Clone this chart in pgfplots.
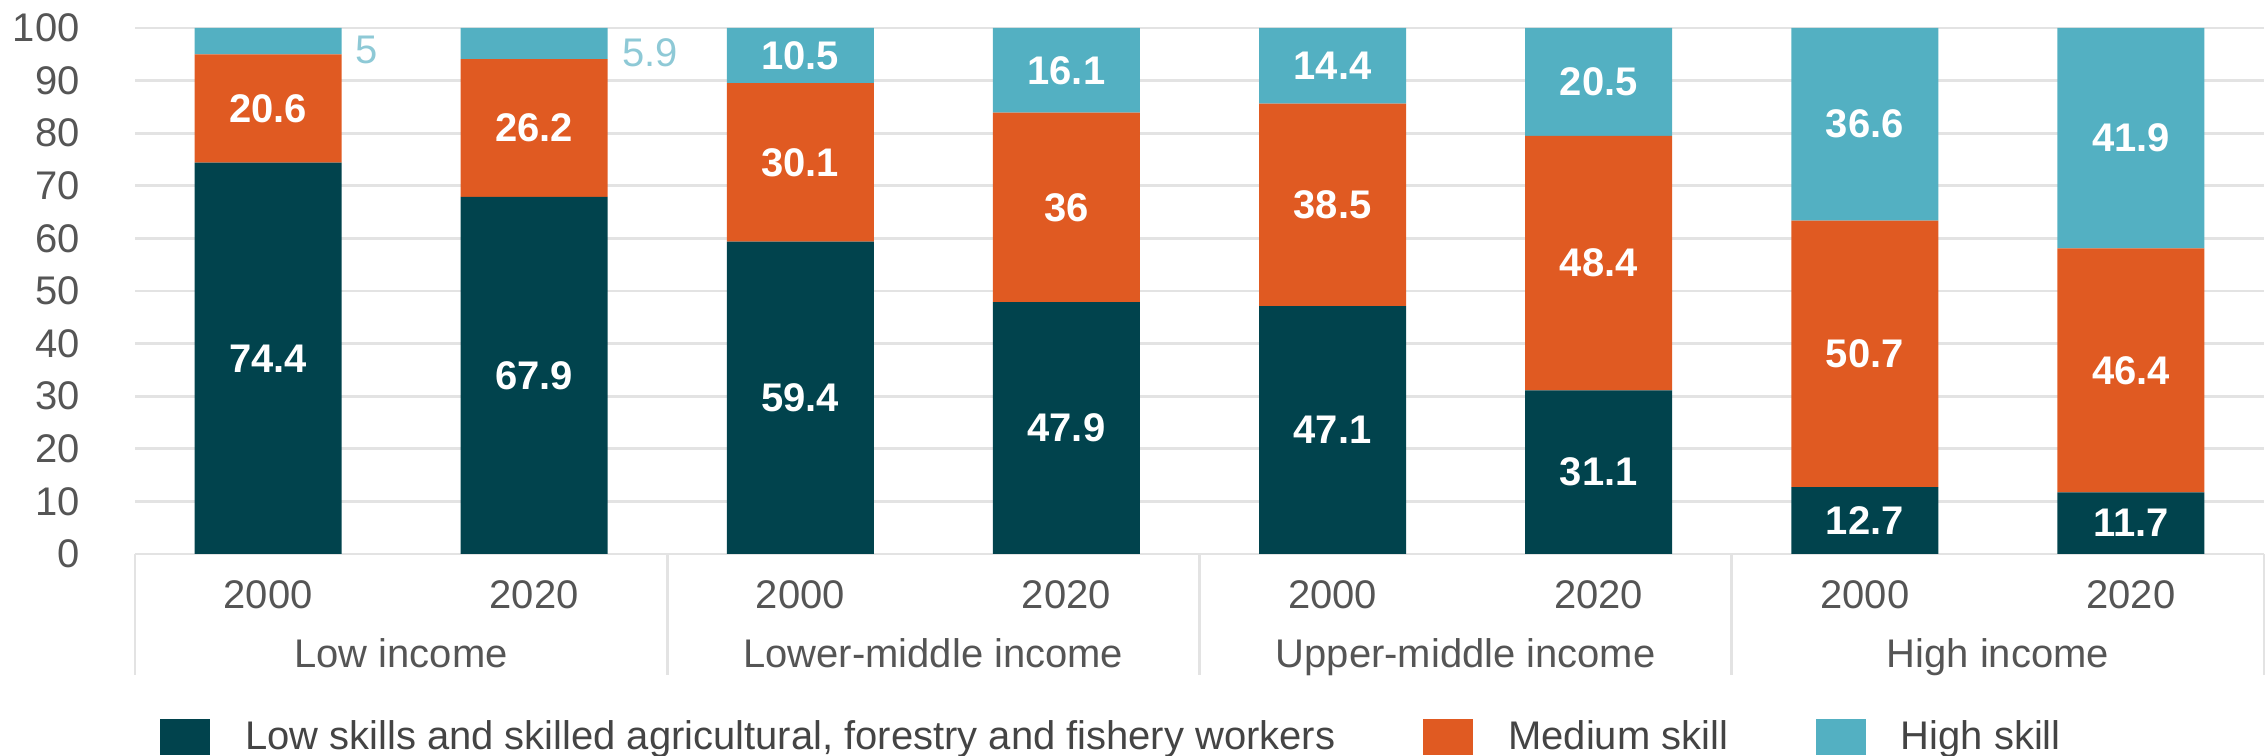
\documentclass[border=0pt]{standalone}
\usepackage{pgfplots}
\pgfplotsset{compat=1.18}
\usepackage{pgfplotstable}
\usepackage{fontspec}
\setmainfont{Liberation Sans}
\definecolor{cdark}{HTML}{01434D}
\definecolor{corange}{HTML}{E05A22}
\definecolor{cblue}{HTML}{53B0C2}
\definecolor{clblue}{HTML}{8EC9D6}
\definecolor{ctext}{HTML}{555555}
\definecolor{clegtext}{HTML}{444444}
\definecolor{cgrid}{HTML}{E3E3E3}
\newcommand\myfont{\fontsize{14.1}{17}\selectfont}

\pgfplotstableread{
x v
0 74.4
1 67.9
2 59.4
3 47.9
4 47.1
5 31.1
6 12.7
7 11.7
}\lowtab
\pgfplotstableread{
x v
0 20.6
1 26.2
2 30.1
3 36
4 38.5
5 48.4
6 50.7
7 46.4
}\medtab
\pgfplotstableread{
x v
0 5
1 5.9
2 10.5
3 16.1
4 14.4
5 20.5
6 36.6
7 41.9
}\hightab

% segments too thin to hold their value get it beside the bar
\newcommand{\seglabel}[1]{\ifdim#1pt<8pt\relax\makebox[0pt][l]{\hspace{31pt}\raisebox{-8pt}[0pt][0pt]{\mdseries\color{clblue}#1}}\else #1\fi}

\begin{document}
\begin{tikzpicture}[font=\myfont]
\path[use as bounding box] (-47.64pt,-71.28pt) rectangle (752.36pt,195.5pt);
\begin{axis}[
  at={(0pt,0pt)}, anchor=south west,
  scale only axis, width=751.3pt, height=185.62pt,
  xmin=-0.5, xmax=7.5, ymin=0, ymax=100,
  ybar stacked, bar width=51.9pt,
  axis line style={draw=none},
  clip=false,
  /pgf/number format/assume math mode=true,
  major tick length=0pt,
  ytick={0,10,...,100},
  ymajorgrids, grid style={cgrid, line width=1pt},
  tick label style={font=\myfont},
  yticklabel style={anchor=east, inner sep=0pt, xshift=-19.4pt, text=ctext},
  xtick={0,...,7},
  xticklabels={2000,2020,2000,2020,2000,2020,2000,2020},
  xticklabel style={anchor=base, inner sep=0pt, yshift=-19.1pt, text=ctext},
  xtick pos=bottom, xtick align=outside,
  minor xtick={-0.5,1.5,3.5,5.5,7.5},
  minor tick length=42.7pt,
  minor tick style={cgrid, line width=1pt},
  extra x ticks={0.5,2.5,4.5,6.5},
  extra x tick labels={Low income,Lower-middle income,Upper-middle income,High income},
  extra x tick style={xticklabel style={yshift=-20.8pt}},
  point meta=explicit symbolic,
  nodes near coords={\seglabel{\pgfplotspointmeta}},
  every node near coord/.append style={font=\myfont\bfseries, anchor=center, text=white, inner sep=0pt},
  sq legend/.style={legend image code/.code={\fill[##1] (0pt,-2.1pt) rectangle (17.6pt,10.8pt);}},
  legend columns=3,
  legend style={draw=none, fill=none, inner sep=0pt, outer sep=0pt,
      at={(0,0)}, anchor=south west, xshift=8.86pt, yshift=-71.1pt,
      font=\myfont, text=clegtext,
      cells={anchor=base west},
      nodes={inner sep=0pt},
      /tikz/every odd column/.append style={column sep=12.4pt},
      /tikz/every even column/.append style={column sep=31pt}},
]
\addplot[fill=cdark, draw=none, sq legend] table[x=x, y=v, meta=v] {\lowtab};
\addlegendentry{Low skills and skilled agricultural, forestry and fishery workers}
\addplot[fill=corange, draw=none, sq legend] table[x=x, y=v, meta=v] {\medtab};
\addlegendentry{Medium skill}
\addplot[fill=cblue, draw=none, sq legend] table[x=x, y=v, meta=v] {\hightab};
\addlegendentry{High skill}
\end{axis}
\end{tikzpicture}
\end{document}
